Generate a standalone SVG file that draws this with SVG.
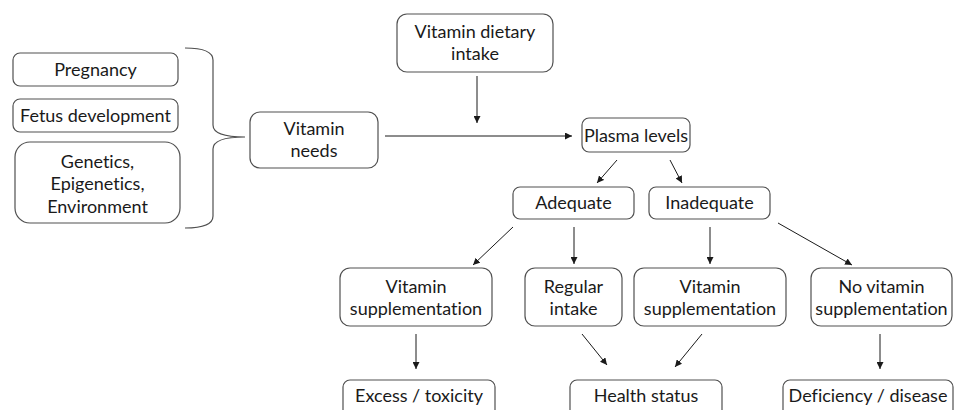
<svg xmlns="http://www.w3.org/2000/svg" width="955" height="410" viewBox="0 0 955 410">
<style>
.box{fill:#fff;stroke:#505050;stroke-width:1.2}
.t{font-family:Lato,"Liberation Sans",sans-serif;font-size:18px;fill:#1a1a1a;text-anchor:middle;font-variant-ligatures:none;font-feature-settings:"liga" 0}
.c{stroke:#1a1a1a;stroke-width:1;fill:none;marker-end:url(#ah)}
</style>
<defs>
<marker id="ah" viewBox="0 0 10 10" refX="10" refY="5" markerWidth="7" markerHeight="7" markerUnits="userSpaceOnUse" orient="auto">
<path d="M0,0 L10,5 L0,10 z" fill="#1a1a1a"/>
</marker>
</defs>
<rect width="955" height="410" fill="#fff"/>
<g id="pregnancy"><rect class="box" x="13" y="53" width="165" height="33" rx="7"/><text class="t" x="95.5" y="76">Pregnancy</text></g>
<g id="fetus"><rect class="box" x="13" y="99" width="165" height="33" rx="7"/><text class="t" x="95.5" y="122">Fetus development</text></g>
<g id="genetics"><rect class="box" x="15" y="142" width="165" height="81" rx="15"/><text class="t" x="97.5" y="168">Genetics,</text><text class="t" x="97.5" y="190">Epigenetics,</text><text class="t" x="97.5" y="213">Environment</text></g>
<g id="brace"><path d="M185,48 Q213,48 213,60 L213,125 Q213,137 245,137 Q213,137 213,149 L213,216 Q213,228 185,228" fill="none" stroke="#505050" stroke-width="1.2"/></g>
<g id="dietary"><rect class="box" x="397" y="14" width="156" height="58" rx="10"/><text class="t" x="475" y="38">Vitamin dietary</text><text class="t" x="475" y="60">intake</text></g>
<g id="needs"><rect class="box" x="250" y="112" width="128" height="56" rx="10"/><text class="t" x="314" y="135">Vitamin</text><text class="t" x="314" y="157">needs</text></g>
<g id="plasma"><rect class="box" x="582" y="118" width="108" height="34" rx="7"/><text class="t" x="636" y="142">Plasma levels</text></g>
<g id="adequate"><rect class="box" x="513" y="187" width="121" height="32" rx="7"/><text class="t" x="573.5" y="209">Adequate</text></g>
<g id="inadequate"><rect class="box" x="649" y="187" width="121" height="32" rx="7"/><text class="t" x="709.5" y="209">Inadequate</text></g>
<g id="supp1"><rect class="box" x="340" y="268" width="152" height="58" rx="10"/><text class="t" x="416" y="293">Vitamin</text><text class="t" x="416" y="315">supplementation</text></g>
<g id="regular"><rect class="box" x="525" y="268" width="97" height="58" rx="10"/><text class="t" x="573.5" y="293">Regular</text><text class="t" x="573.5" y="315">intake</text></g>
<g id="supp2"><rect class="box" x="634" y="268" width="152" height="58" rx="10"/><text class="t" x="710" y="293">Vitamin</text><text class="t" x="710" y="315">supplementation</text></g>
<g id="nosupp"><rect class="box" x="811" y="268" width="141" height="58" rx="10"/><text class="t" x="881.5" y="293">No vitamin</text><text class="t" x="881.5" y="315">supplementation</text></g>
<g id="excess"><rect class="box" x="343" y="380" width="152" height="45" rx="7"/><text class="t" x="419" y="402">Excess / toxicity</text></g>
<g id="health"><rect class="box" x="570" y="380" width="152" height="45" rx="7"/><text class="t" x="646" y="402">Health status</text></g>
<g id="deficiency"><rect class="box" x="783" y="380" width="170" height="45" rx="7"/><text class="t" x="868" y="402">Deficiency / disease</text></g>
<g id="connectors">
<line class="c" x1="477" y1="76" x2="477" y2="123"/>
<line class="c" x1="385" y1="136" x2="572" y2="136"/>
<line class="c" x1="617" y1="160" x2="597" y2="183"/>
<line class="c" x1="670" y1="160" x2="682" y2="183"/>
<line class="c" x1="513" y1="227" x2="473" y2="265"/>
<line class="c" x1="574" y1="227" x2="574" y2="264"/>
<line class="c" x1="710" y1="227" x2="710" y2="264"/>
<line class="c" x1="778" y1="223" x2="852" y2="265"/>
<line class="c" x1="416" y1="334" x2="416" y2="369"/>
<line class="c" x1="582" y1="334" x2="607" y2="365"/>
<line class="c" x1="702" y1="334" x2="675" y2="367"/>
<line class="c" x1="880" y1="334" x2="880" y2="369"/>
</g>
</svg>
